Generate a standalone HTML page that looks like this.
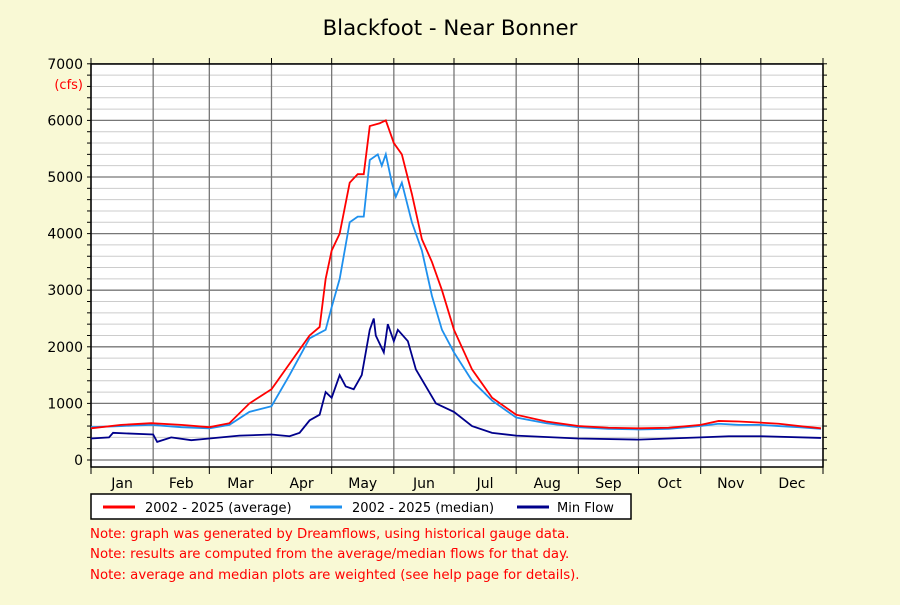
<!DOCTYPE html>
<html><head><meta charset="utf-8"><style>
body{margin:0;background:#f9f9d5;font-family:"Liberation Sans","DejaVu Sans",sans-serif;}
svg text{font-family:"DejaVu Sans","Liberation Sans",sans-serif;}
</style></head><body>
<svg id="chart" width="900" height="600" xmlns="http://www.w3.org/2000/svg">
<rect width="900" height="600" fill="#f9f9d5"/>
<text x="450" y="35" font-size="21.3" text-anchor="middle" fill="#000">Blackfoot - Near Bonner</text>
<g id="plot"></g>
<g>
<rect x="91" y="494" width="540" height="25" fill="#fff" stroke="#000" stroke-width="1.5"/>
<line x1="103" y1="507" x2="135" y2="507" stroke="#f00" stroke-width="3"/>
<text x="145" y="512" font-size="13">2002 - 2025 (average)</text>
<line x1="310" y1="507" x2="342" y2="507" stroke="#1e90ee" stroke-width="3"/>
<text x="352" y="512" font-size="13">2002 - 2025 (median)</text>
<line x1="517" y1="507" x2="549" y2="507" stroke="#00008b" stroke-width="3"/>
<text x="557" y="512" font-size="13">Min Flow</text>
</g>
<g fill="#f00" font-size="13.3">
<text x="90" y="538">Note: graph was generated by Dreamflows, using historical gauge data.</text>
<text x="90" y="558">Note: results are computed from the average/median flows for that day.</text>
<text x="90" y="579">Note: average and median plots are weighted (see help page for details).</text>
</g>
</svg>
<script>
const months=["Jan","Feb","Mar","Apr","May","Jun","Jul","Aug","Sep","Oct","Nov","Dec"];
const monthStarts=[0,31,59,90,120,151,181,212,243,273,304,334,365];
const yTicks=[0,1000,2000,3000,4000,5000,6000,7000];
const avgDays=[0,15,30,45,59,69,79,90,99,109,114,117,120,124,129,133,136,139,144,147,151,155,160,165,170,175,181,190,200,212,227,243,258,273,288,304,313,323,334,343,353,364];
const avgVals=[560,620,650,620,580,650,1000,1250,1700,2200,2350,3200,3700,4000,4900,5050,5050,5900,5950,6000,5600,5400,4700,3900,3500,3000,2300,1600,1100,800,680,600,570,560,570,620,690,680,660,640,600,560];
const medDays=[0,15,30,45,59,69,79,90,99,109,117,120,124,129,133,136,139,143,145,147,150,152,155,160,165,170,175,181,190,200,212,227,243,258,273,288,304,313,323,334,343,353,364];
const medVals=[580,600,620,580,560,620,850,950,1500,2150,2300,2700,3200,4200,4300,4300,5300,5400,5200,5400,4900,4650,4900,4200,3700,2900,2300,1900,1400,1050,750,650,580,550,540,550,600,640,620,620,600,580,550];
const minDays=[0,9,11,31,33,40,50,59,74,90,99,104,109,114,117,120,122,124,127,131,135,139,141,142,146,148,151,153,158,162,167,172,181,190,200,212,243,273,304,318,334,364];
const minVals=[380,400,480,450,320,400,350,380,430,450,420,480,700,800,1200,1100,1300,1500,1300,1250,1500,2300,2500,2200,1900,2400,2100,2300,2100,1600,1300,1000,850,600,480,430,380,360,400,420,420,390];
const X0=91,X1=823,Y0=460,PX=0.0566;
const xs=d=>X0+d*(X1-X0)/365;
const ys=v=>Y0-v*PX;
const g=document.getElementById('plot');
const NS="http://www.w3.org/2000/svg";
function mk(t,a){const e=document.createElementNS(NS,t);for(const k in a)e.setAttribute(k,a[k]);g.appendChild(e);return e;}
const bg=mk('rect',{x:X0,y:64,width:X1-X0,height:403,fill:'#fff'});


for(let v=0;v<=7000;v+=200){
 const maj=v%1000===0;
 const l=mk('line',{x1:X0,x2:X1,y1:ys(v),y2:ys(v),stroke:maj?'#777':'#ccc','stroke-width':maj?1.3:1});
 
 
 mk('line',{x1:X0-4,x2:X0,y1:ys(v),y2:ys(v),stroke:'#000'});
 mk('line',{x1:X1,x2:X1+4,y1:ys(v),y2:ys(v),stroke:'#000'});
}
monthStarts.forEach((d,i)=>{
 const l=mk('line',{x1:xs(d),x2:xs(d),y1:64,y2:467,stroke:'#777','stroke-width':1.3});
 
 
 mk('line',{x1:xs(d),x2:xs(d),y1:467,y2:474,stroke:'#000'});
 mk('line',{x1:xs(d),x2:xs(d),y1:58,y2:64,stroke:'#000'});
 if(i<12){const t=mk('text',{x:(xs(d)+xs(monthStarts[i+1]))/2,y:488,'font-size':14,'text-anchor':'middle'});t.textContent=months[i];
 
 }
});
yTicks.forEach(v=>{const t=mk('text',{x:83,y:ys(v)+5,'font-size':14,'text-anchor':'end'});t.textContent=v;
 
 });
const u=mk('text',{x:83,y:89,'font-size':13,'text-anchor':'end',fill:'#f00'});u.textContent='(cfs)';


const fr=mk('rect',{x:X0,y:64,width:X1-X0,height:403,fill:'none',stroke:'#000','stroke-width':1.5});


function series(days,vals,col,name){
 const p=mk('polyline',{points:days.map((d,i)=>xs(d)+','+ys(vals[i])).join(' '),fill:'none',stroke:col,'stroke-width':1.8});
 
 
}
series(minDays,minVals,'#00008b','min-flow-line');
series(medDays,medVals,'#1e90ee','median-line');
series(avgDays,avgVals,'#f00','average-line');
</script>
</body></html>
